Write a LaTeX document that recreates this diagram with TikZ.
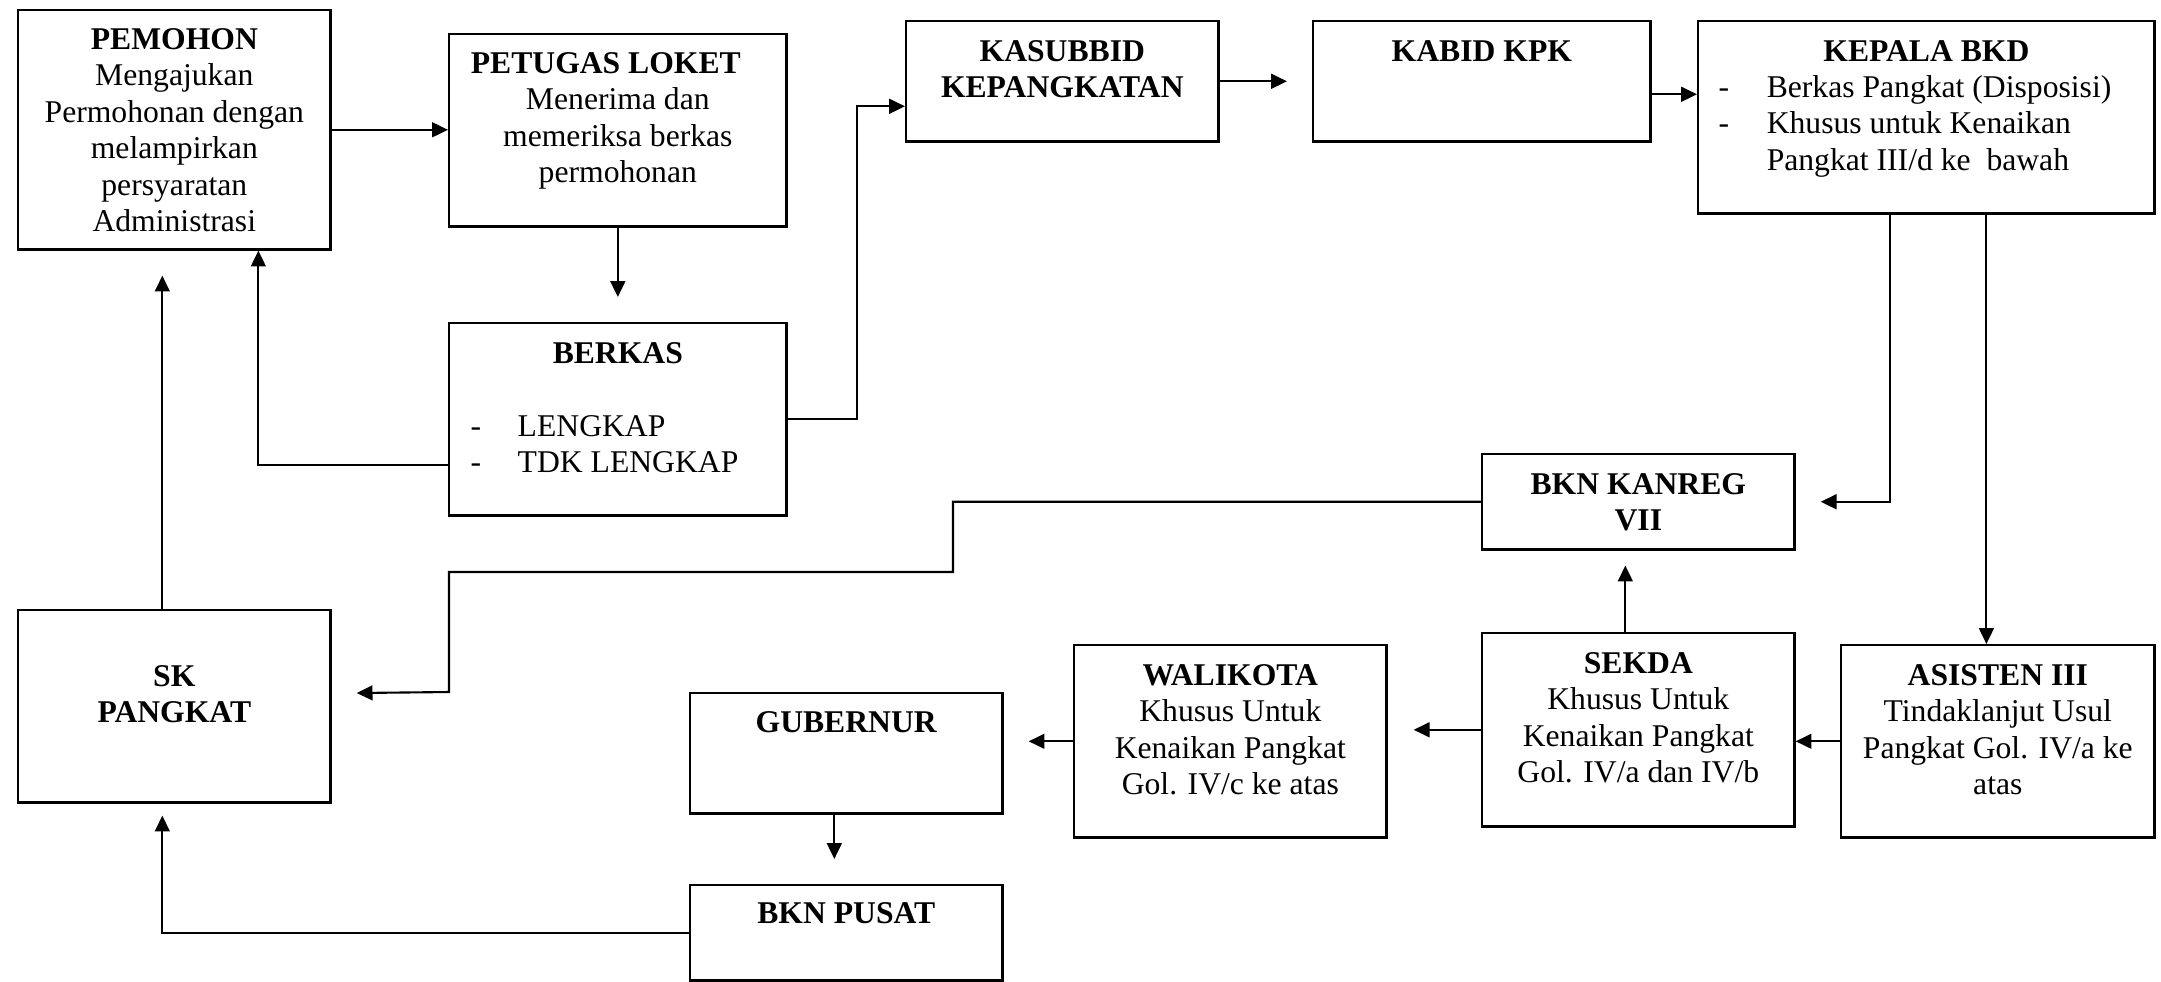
\documentclass[tikz,border=0pt]{standalone}
\usepackage{fontspec}
\setmainfont{Liberation Serif}
\usetikzlibrary{arrows.meta,calc}
\newcommand{\boxtext}[2][c]{\begin{tabular}[t]{@{}#1@{}}#2\end{tabular}}

\begin{document}
\begin{tikzpicture}[x=0.01cm,y=-0.01cm,
    box/.style={draw, line width=0.7pt, anchor=north west, inner sep=0},
    txt/.style={anchor=base, inner sep=0, font=\fontsize{9}{10.4}\selectfont},
    lst/.style={anchor=base west, inner sep=0, font=\fontsize{9}{10.4}\selectfont},
    arr/.style={-{Triangle[length=4.5pt,width=4.2pt]}, line width=0.6pt}]
\useasboundingbox (0,0) rectangle (2161,981);
%boxes
\node[box, minimum width=3.12cm, minimum height=2.39cm] (pemohon) at (17,9){};
\node[box, minimum width=3.37cm, minimum height=1.92cm] (loket) at (448,33){};
\node[box, minimum width=3.37cm, minimum height=1.92cm] (berkas) at (448,322){};
\node[box, minimum width=3.12cm, minimum height=1.20cm] (kasubbid) at (905,20){};
\node[box, minimum width=3.37cm, minimum height=1.20cm] (kabid) at (1312,20){};
\node[box, minimum width=4.56cm, minimum height=1.92cm] (kepala) at (1697,20){};
\node[box, minimum width=3.12cm, minimum height=0.95cm] (kanreg) at (1481,453){};
\node[box, minimum width=3.12cm, minimum height=1.93cm] (sekda) at (1481,632){};
\node[box, minimum width=3.13cm, minimum height=1.92cm] (asisten) at (1840,644){};
\node[box, minimum width=3.12cm, minimum height=1.92cm] (walikota) at (1073,644){};
\node[box, minimum width=3.12cm, minimum height=1.92cm] (sk) at (17,609){};
\node[box, minimum width=3.12cm, minimum height=1.20cm] (gubernur) at (689,692){};
\node[box, minimum width=3.12cm, minimum height=0.95cm] (pusat) at (689,884){};

%labels
\node[txt] (pemohon-t) at ([yshift=-0.40cm]pemohon.north){\boxtext{\textbf{PEMOHON}\\Mengajukan\\Permohonan dengan\\melampirkan\\persyaratan\\Administrasi}};
\node[txt] (loket-t) at ([yshift=-0.40cm]loket.north){\boxtext{\textbf{PETUGAS LOKET}\hspace*{0.24cm}\\Menerima dan\\memeriksa berkas\\permohonan}};
\node[txt] (berkas-t) at ([yshift=-0.41cm]berkas.north){\textbf{BERKAS}};
\node[lst] (berkas-l) at ([xshift=0.22cm,yshift=-1.14cm]berkas.north west){\boxtext[l]{\makebox[0.47cm][l]{-}LENGKAP\\\makebox[0.47cm][l]{-}TDK LENGKAP}};
\node[txt] (kasubbid-t) at ([yshift=-0.41cm]kasubbid.north){\boxtext{\textbf{KASUBBID}\\\textbf{KEPANGKATAN}}};
\node[txt] (kabid-t) at ([yshift=-0.41cm]kabid.north){\textbf{KABID KPK}};
\node[txt] (kepala-t) at ([yshift=-0.41cm]kepala.north){\textbf{KEPALA BKD}};
\node[lst] (kepala-l) at ([xshift=0.21cm,yshift=-0.77cm]kepala.north west){\boxtext[l]{\makebox[0.48cm][l]{-}Berkas Pangkat (Disposisi)\\\makebox[0.48cm][l]{-}Khusus untuk Kenaikan\\\hspace*{0.48cm}Pangkat III/d ke\ \ bawah}};
\node[txt] (kanreg-t) at ([yshift=-0.41cm]kanreg.north){\boxtext{\textbf{BKN KANREG}\\\textbf{VII}}};
\node[txt] (sekda-t) at ([yshift=-0.41cm]sekda.north){\boxtext{\textbf{SEKDA}\\Khusus Untuk\\Kenaikan Pangkat\\Gol. IV/a dan IV/b}};
\node[txt] (asisten-t) at ([yshift=-0.41cm]asisten.north){\boxtext{\textbf{ASISTEN III}\\Tindaklanjut Usul\\Pangkat Gol. IV/a ke\\atas}};
\node[txt] (walikota-t) at ([yshift=-0.41cm]walikota.north){\boxtext{\textbf{WALIKOTA}\\Khusus Untuk\\Kenaikan Pangkat\\Gol. IV/c ke atas}};
\node[txt] (sk-t) at ([yshift=-0.77cm]sk.north){\boxtext{\textbf{SK}\\\textbf{PANGKAT}}};
\node[txt] (gubernur-t) at ([yshift=-0.40cm]gubernur.north){\textbf{GUBERNUR}};
\node[txt] (pusat-t) at ([yshift=-0.39cm]pusat.north){\textbf{BKN PUSAT}};

%arrows
\draw[arr] (pemohon.east) -- (pemohon.east -| loket.west);
\draw[arr, shorten >=0.25cm] (loket) -- (berkas);
\draw[arr] ([yshift=-0.46cm]berkas.west) -| ([xshift=0.84cm]pemohon.south);
\draw[arr] (berkas.east) -| ([xshift=-0.48cm,yshift=-0.25cm]kasubbid.west) -- ([yshift=-0.25cm]kasubbid.west);
\draw[arr, shorten >=0.25cm] (kasubbid) -- (kabid);
\draw[arr] ([yshift=-0.13cm]kabid.east) -- ([yshift=-0.13cm]kabid.east -| kepala.west);
\draw[arr, shorten >=0.25cm] ([xshift=-0.36cm]kepala.south) |- (kanreg.east);
\draw[arr] ([xshift=0.60cm]kepala.south) -- ([xshift=0.60cm]kepala.south |- asisten.north);
\draw[arr] (asisten.west) -- (asisten.west -| sekda.east);
\draw[arr, shorten >=0.15cm] ([xshift=-0.13cm]sekda.north) -- ([xshift=-0.13cm]sekda.north |- kanreg.south);
\draw[arr, shorten >=0.26cm] (sekda.west) -- (sekda.west -| walikota.east);
\draw[arr, shorten >=0.25cm] (walikota.west) -- (walikota.west -| gubernur.east);
\draw[arr, shorten >=0.25cm] ([xshift=-0.12cm]gubernur.south) -- ([xshift=-0.12cm]gubernur.south |- pusat.north);
\draw[arr, shorten >=0.12cm] (pusat.west) -| ([xshift=-0.12cm]sk.south);
\draw[arr, shorten >=0.25cm] (kanreg.west) -| (953,572) -| (449,692) -- ([yshift=0.13cm]sk.east);
\draw[arr, shorten >=0.25cm] ([xshift=-0.12cm]sk.north) -- ([xshift=-0.12cm]sk.north |- pemohon.south);

\end{tikzpicture}
\end{document}
